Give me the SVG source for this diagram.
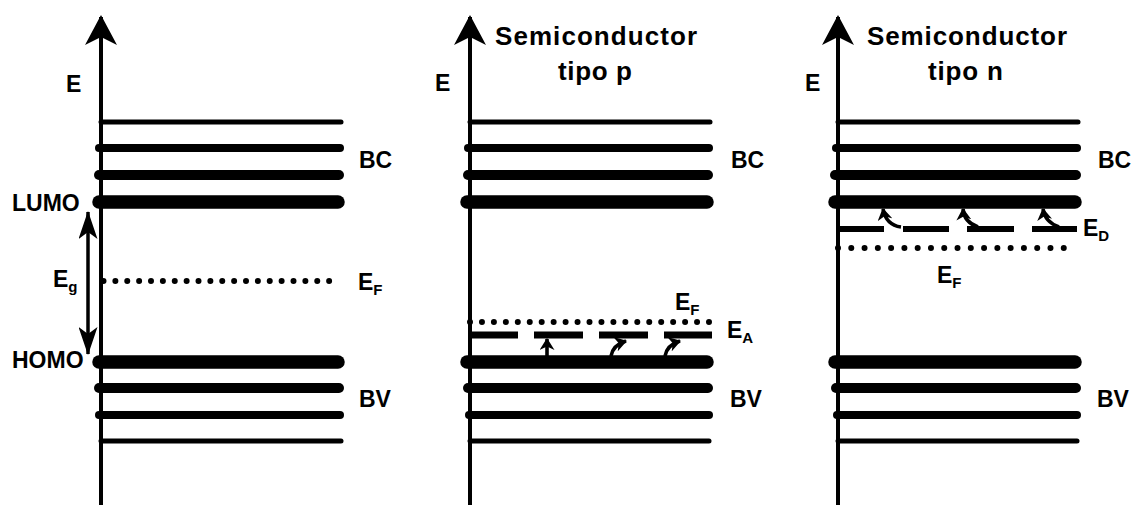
<svg xmlns="http://www.w3.org/2000/svg" width="1135" height="505" viewBox="0 0 1135 505">
<style>
.lbl{font-family:"Liberation Sans",Arial,sans-serif;font-weight:bold;font-size:23px;fill:#000}
.ttl{font-family:"Liberation Sans",Arial,sans-serif;font-weight:bold;font-size:26px;fill:#000}
.sub{font-size:15px}
.ax{stroke:#000;stroke-width:4;fill:none}
.lv{stroke:#000;stroke-linecap:round;fill:none}
.l1{stroke-width:5}
.l2{stroke-width:8}
.l3{stroke-width:10}
.l4{stroke-width:13.5}
.dot{stroke:#000;stroke-width:6;stroke-linecap:round;fill:none}
.dash{stroke:#000;stroke-width:7;fill:none}
.sa{stroke:#000;stroke-width:3.6;fill:none}
</style>
<defs>
<marker id="bigHead" viewBox="0 0 30 32" refX="28" refY="16" markerWidth="30" markerHeight="32" markerUnits="userSpaceOnUse" orient="auto">
<path d="M0,0 L30,16 L0,32 L8,16 z" fill="#000"/>
</marker>
<marker id="egHead" viewBox="0 0 28 19" refX="27" refY="9.5" markerWidth="28" markerHeight="19" markerUnits="userSpaceOnUse" orient="auto-start-reverse">
<path d="M0,0 L28,9.5 L0,19 L7,9.5 z" fill="#000"/>
</marker>
<marker id="smHead" viewBox="0 0 12 15" refX="11" refY="7.5" markerWidth="12" markerHeight="15" markerUnits="userSpaceOnUse" orient="auto">
<path d="M0,0 L12,7.5 L0,15 L3.5,7.5 z" fill="#000"/>
</marker>
</defs>

<!-- Panel 1: intrinsic -->
<g id="panel-intrinsic">
<line class="ax" x1="101" y1="505" x2="101" y2="17" marker-end="url(#bigHead)"/>
<text class="lbl" x="66" y="92">E</text>
<line class="lv l1" x1="101" y1="122" x2="341" y2="122"/>
<line class="lv l2" x1="99" y1="148" x2="340" y2="148"/>
<line class="lv l3" x1="99" y1="175" x2="339" y2="175"/>
<line class="lv l4" x1="99" y1="202" x2="338" y2="202"/>
<text class="lbl" x="359" y="168">BC</text>
<text class="lbl" x="12" y="211">LUMO</text>
<line class="sa" x1="88" y1="212" x2="88" y2="354" style="stroke-width:3.5" marker-start="url(#egHead)" marker-end="url(#egHead)"/>
<text class="lbl" x="53" y="287">E<tspan class="sub" dy="5">g</tspan></text>
<line class="dot" x1="103.5" y1="281" x2="341" y2="281" stroke-dasharray="0 11.875"/>
<text class="lbl" x="358" y="290">E<tspan class="sub" dy="5">F</tspan></text>
<text class="lbl" x="12" y="368">HOMO</text>
<line class="lv l4" x1="99" y1="362" x2="338" y2="362"/>
<line class="lv l3" x1="99" y1="388" x2="339" y2="388"/>
<line class="lv l2" x1="99" y1="415" x2="340" y2="415"/>
<line class="lv l1" x1="101" y1="441" x2="341" y2="441"/>
<text class="lbl" x="359" y="407">BV</text>
</g>

<!-- Panel 2: p-type -->
<g id="panel-p">
<line class="ax" x1="470" y1="505" x2="470" y2="17" marker-end="url(#bigHead)"/>
<text class="lbl" x="435" y="91">E</text>
<text class="ttl" x="495" y="45" textLength="202" lengthAdjust="spacing">Semiconductor</text>
<text class="ttl" x="558" y="80" textLength="74" lengthAdjust="spacing">tipo p</text>
<line class="lv l1" x1="470" y1="122" x2="710" y2="122"/>
<line class="lv l2" x1="468" y1="148" x2="709" y2="148"/>
<line class="lv l3" x1="468" y1="175" x2="708" y2="175"/>
<line class="lv l4" x1="467" y1="202" x2="707" y2="202"/>
<text class="lbl" x="731" y="168">BC</text>
<line class="dot" x1="470" y1="322" x2="709" y2="322" stroke-dasharray="0 11.95"/>
<text class="lbl" x="675" y="310">E<tspan class="sub" dy="5">F</tspan></text>
<line class="dash" x1="470" y1="335" x2="518" y2="335"/>
<line class="dash" x1="534" y1="335" x2="583" y2="335"/>
<line class="dash" x1="599" y1="335" x2="648" y2="335"/>
<line class="dash" x1="664" y1="335" x2="712" y2="335"/>
<text class="lbl" x="727" y="338">E<tspan class="sub" dy="5">A</tspan></text>
<line class="lv l4" x1="467" y1="362" x2="707" y2="362"/>
<line class="lv l3" x1="468" y1="388" x2="708" y2="388"/>
<line class="lv l2" x1="469" y1="415" x2="709" y2="415"/>
<line class="lv l1" x1="470" y1="441" x2="709" y2="441"/>
<text class="lbl" x="730" y="407">BV</text>
</g>

<!-- Panel 3: n-type -->
<g id="panel-n">
<line class="ax" x1="838" y1="505" x2="838" y2="17" marker-end="url(#bigHead)"/>
<text class="lbl" x="805" y="91">E</text>
<text class="ttl" x="867" y="45" textLength="200" lengthAdjust="spacing">Semiconductor</text>
<text class="ttl" x="928" y="80" textLength="75" lengthAdjust="spacing">tipo n</text>
<line class="lv l1" x1="838" y1="122" x2="1078" y2="122"/>
<line class="lv l2" x1="836" y1="148" x2="1077" y2="148"/>
<line class="lv l3" x1="835" y1="175" x2="1076" y2="175"/>
<line class="lv l4" x1="835" y1="202" x2="1075" y2="202"/>
<text class="lbl" x="1098" y="168">BC</text>
<line class="dash" x1="838" y1="229" x2="884" y2="229" style="stroke-width:6"/>
<line class="dash" x1="903" y1="229" x2="949" y2="229" style="stroke-width:6"/>
<line class="dash" x1="967" y1="229" x2="1014" y2="229" style="stroke-width:6"/>
<line class="dash" x1="1032" y1="229" x2="1077" y2="229" style="stroke-width:6"/>
<text class="lbl" x="1083" y="236">E<tspan class="sub" dy="5">D</tspan></text>
<line class="dot" x1="838" y1="248" x2="1077" y2="248" stroke-dasharray="0 13.28"/>
<text class="lbl" x="937" y="283">E<tspan class="sub" dy="5">F</tspan></text>
<line class="lv l4" x1="835" y1="362" x2="1075" y2="362"/>
<line class="lv l3" x1="836" y1="388" x2="1076" y2="388"/>
<line class="lv l2" x1="837" y1="415" x2="1077" y2="415"/>
<line class="lv l1" x1="838" y1="441" x2="1077" y2="441"/>
<text class="lbl" x="1097" y="407">BV</text>
</g>

<!-- transition arrows -->
<g id="connectors">
<line class="sa" x1="547" y1="356" x2="547" y2="339" marker-end="url(#smHead)"/>
<path class="sa" d="M611,356 Q613,345 626,341" marker-end="url(#smHead)"/>
<path class="sa" d="M665,356 Q667,345 680,341" marker-end="url(#smHead)"/>
<path class="sa" d="M901,227 Q886,225 883,209" marker-end="url(#smHead)"/>
<path class="sa" d="M978,227 Q964,222 963,209" marker-end="url(#smHead)"/>
<path class="sa" d="M1059,227 Q1045,222 1043,209" marker-end="url(#smHead)"/>
</g>
</svg>
